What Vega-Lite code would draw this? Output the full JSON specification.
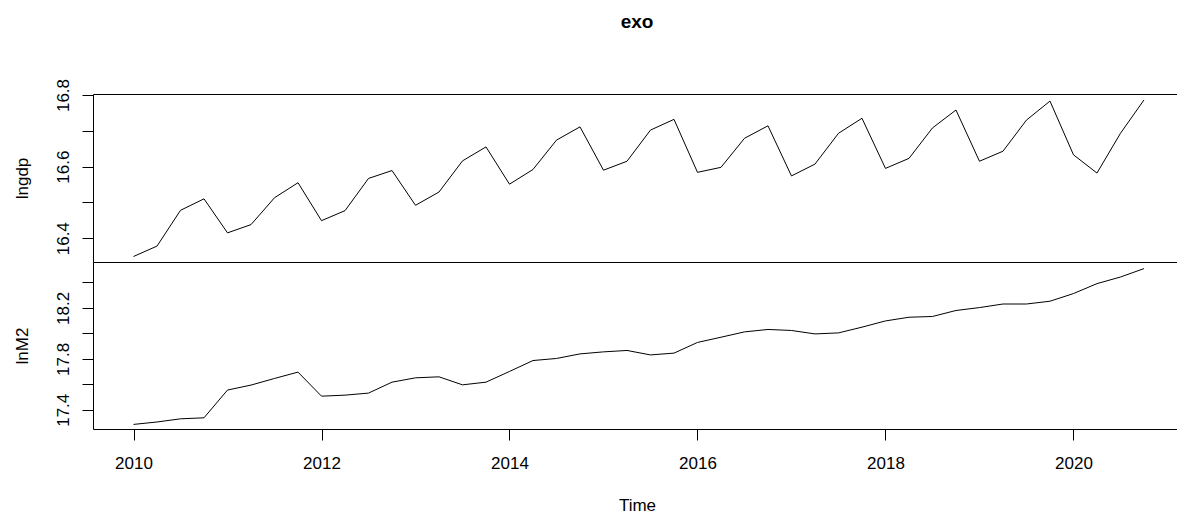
{
  "$schema": "https://vega.github.io/schema/vega-lite/v6.json",
  "autosize": {"type": "none"},
  "padding": {"left": 93, "top": 94, "right": 1084, "bottom": 424},
  "background": "white",
  "bounds": "flush",
  "title": {"text": "exo", "anchor": "middle", "frame": "group", "font": "Liberation Sans", "fontSize": 19, "fontWeight": "bold", "color": "black", "offset": 46},
  "data": {"values": [
    {"t": 2010.00, "lngdp": 16.349, "lnM2": 17.285},
    {"t": 2010.25, "lngdp": 16.378, "lnM2": 17.304},
    {"t": 2010.50, "lngdp": 16.478, "lnM2": 17.329},
    {"t": 2010.75, "lngdp": 16.510, "lnM2": 17.337},
    {"t": 2011.00, "lngdp": 16.415, "lnM2": 17.555},
    {"t": 2011.25, "lngdp": 16.438, "lnM2": 17.594},
    {"t": 2011.50, "lngdp": 16.513, "lnM2": 17.646},
    {"t": 2011.75, "lngdp": 16.555, "lnM2": 17.696},
    {"t": 2012.00, "lngdp": 16.449, "lnM2": 17.507},
    {"t": 2012.25, "lngdp": 16.477, "lnM2": 17.515},
    {"t": 2012.50, "lngdp": 16.567, "lnM2": 17.531},
    {"t": 2012.75, "lngdp": 16.589, "lnM2": 17.617},
    {"t": 2013.00, "lngdp": 16.492, "lnM2": 17.651},
    {"t": 2013.25, "lngdp": 16.529, "lnM2": 17.659},
    {"t": 2013.50, "lngdp": 16.616, "lnM2": 17.596},
    {"t": 2013.75, "lngdp": 16.655, "lnM2": 17.617},
    {"t": 2014.00, "lngdp": 16.551, "lnM2": 17.701},
    {"t": 2014.25, "lngdp": 16.592, "lnM2": 17.787},
    {"t": 2014.50, "lngdp": 16.674, "lnM2": 17.803},
    {"t": 2014.75, "lngdp": 16.711, "lnM2": 17.839},
    {"t": 2015.00, "lngdp": 16.590, "lnM2": 17.855},
    {"t": 2015.25, "lngdp": 16.615, "lnM2": 17.866},
    {"t": 2015.50, "lngdp": 16.702, "lnM2": 17.831},
    {"t": 2015.75, "lngdp": 16.732, "lnM2": 17.845},
    {"t": 2016.00, "lngdp": 16.584, "lnM2": 17.929},
    {"t": 2016.25, "lngdp": 16.598, "lnM2": 17.970},
    {"t": 2016.50, "lngdp": 16.679, "lnM2": 18.012},
    {"t": 2016.75, "lngdp": 16.714, "lnM2": 18.031},
    {"t": 2017.00, "lngdp": 16.574, "lnM2": 18.023},
    {"t": 2017.25, "lngdp": 16.607, "lnM2": 17.996},
    {"t": 2017.50, "lngdp": 16.693, "lnM2": 18.004},
    {"t": 2017.75, "lngdp": 16.735, "lnM2": 18.049},
    {"t": 2018.00, "lngdp": 16.595, "lnM2": 18.098},
    {"t": 2018.25, "lngdp": 16.623, "lnM2": 18.127},
    {"t": 2018.50, "lngdp": 16.708, "lnM2": 18.133},
    {"t": 2018.75, "lngdp": 16.758, "lnM2": 18.180},
    {"t": 2019.00, "lngdp": 16.615, "lnM2": 18.203},
    {"t": 2019.25, "lngdp": 16.643, "lnM2": 18.231},
    {"t": 2019.50, "lngdp": 16.730, "lnM2": 18.231},
    {"t": 2019.75, "lngdp": 16.783, "lnM2": 18.253},
    {"t": 2020.00, "lngdp": 16.633, "lnM2": 18.313},
    {"t": 2020.25, "lngdp": 16.582, "lnM2": 18.391},
    {"t": 2020.50, "lngdp": 16.693, "lnM2": 18.443},
    {"t": 2020.75, "lngdp": 16.786, "lnM2": 18.509}
  ]},
  "spacing": 0,
  "vconcat": [
    {
      "width": 1088,
      "height": 168,
      "mark": {"type": "line", "color": "black", "strokeWidth": 1},
      "encoding": {
        "x": {"field": "t", "type": "quantitative", "scale": {"domain": [2009.569, 2021.144], "nice": false, "zero": false}, "axis": null},
        "y": {"field": "lngdp", "type": "quantitative", "scale": {"domain": [16.3336, 16.8028], "nice": false, "zero": false},
          "axis": {"title": "lngdp", "values": [16.4, 16.5, 16.6, 16.7, 16.8],
            "labelExpr": "indexof(['16.4','16.6','16.8'], datum.label) >= 0 ? datum.label : ''",
            "labelAngle": -90, "labelAlign": "center", "labelBaseline": "bottom", "labelPadding": 10, "titlePadding": 23}}
      }
    },
    {
      "width": 1088,
      "height": 167,
      "mark": {"type": "line", "color": "black", "strokeWidth": 1},
      "encoding": {
        "x": {"field": "t", "type": "quantitative", "scale": {"domain": [2009.569, 2021.144], "nice": false, "zero": false},
          "axis": {"title": "Time", "values": [2010, 2012, 2014, 2016, 2018, 2020], "format": "d", "labelPadding": 15, "titlePadding": 26}},
        "y": {"field": "lnM2", "type": "quantitative", "scale": {"domain": [17.249, 18.561], "nice": false, "zero": false},
          "axis": {"title": "lnM2", "values": [17.4, 17.6, 17.8, 18.0, 18.2, 18.4],
            "labelExpr": "indexof(['17.4','17.8','18.2'], datum.label) >= 0 ? datum.label : ''",
            "labelAngle": -90, "labelAlign": "center", "labelBaseline": "bottom", "labelPadding": 10, "titlePadding": 23}}
      }
    }
  ],
  "config": {
    "view": {"stroke": "black", "strokeWidth": 1},
    "axis": {"grid": false, "domain": false, "tickColor": "black", "tickSize": 11, "labelColor": "black", "titleColor": "black",
      "labelFont": "Liberation Sans", "titleFont": "Liberation Sans", "labelFontSize": 17, "titleFontSize": 17, "titleFontWeight": "normal", "labelOverlap": false}
  }
}
